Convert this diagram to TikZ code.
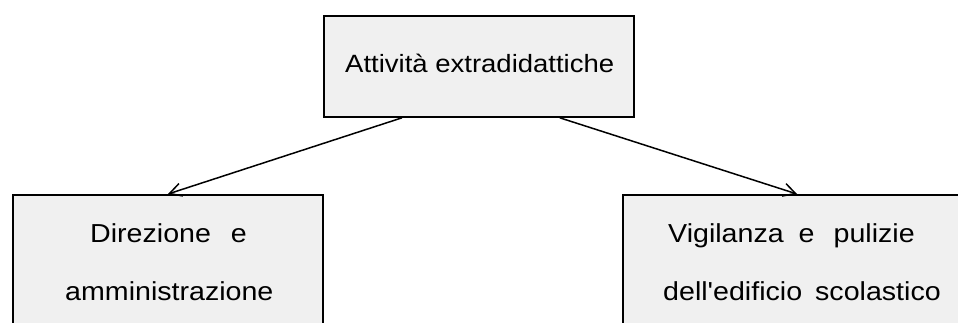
\documentclass[tikz,border=0pt]{standalone}
\usepackage{fontspec}
\newfontfamily\lib{Liberation Sans}[FakeStretch=1.1]
\usetikzlibrary{arrows.meta}
\begin{document}
\begin{tikzpicture}[x=1pt,y=-1pt,
 box/.style={draw=black, line width=1.8pt, fill=black!6, inner sep=0pt, anchor=north west},
 txt/.style={inner sep=0pt, anchor=base west, font=\lib\fontsize{26}{30}\selectfont},
 conn/.style={line width=1.5pt, -{Straight Barb[length=12pt,width=13pt]}}]
\useasboundingbox (0,0) rectangle (958,322);
\clip (0,0) rectangle (958,322);
\node[box, minimum width=310pt, minimum height=101pt] (top) at (323,15) {};
\node[box, minimum width=310pt, minimum height=150pt] (left) at (12,194) {};
\node[box, minimum width=350pt, minimum height=150pt] (right) at (622,194) {};
\node[txt, font=\lib\fontsize{25}{28}\selectfont] (t1) at (345,72) {Attività extradidattiche};
\node[txt] (l1) at (90,242) {Direzione\hspace{20pt}e};
\node[txt] (l2) at (65,300) {amministrazione};
\node[txt] (r1) at (668,242) {Vigilanza\hspace{15pt}e\hspace{19pt}pulizie};
\node[txt] (r2) at (663,300) {dell'edificio\hspace{13pt}scolastico};
\draw[conn] ([xshift=79pt]top.south west) -- ([xshift=156pt]left.north west);
\draw[conn] ([xshift=-75pt]top.south east) -- ([xshift=175pt]right.north west);
\end{tikzpicture}
\end{document}
